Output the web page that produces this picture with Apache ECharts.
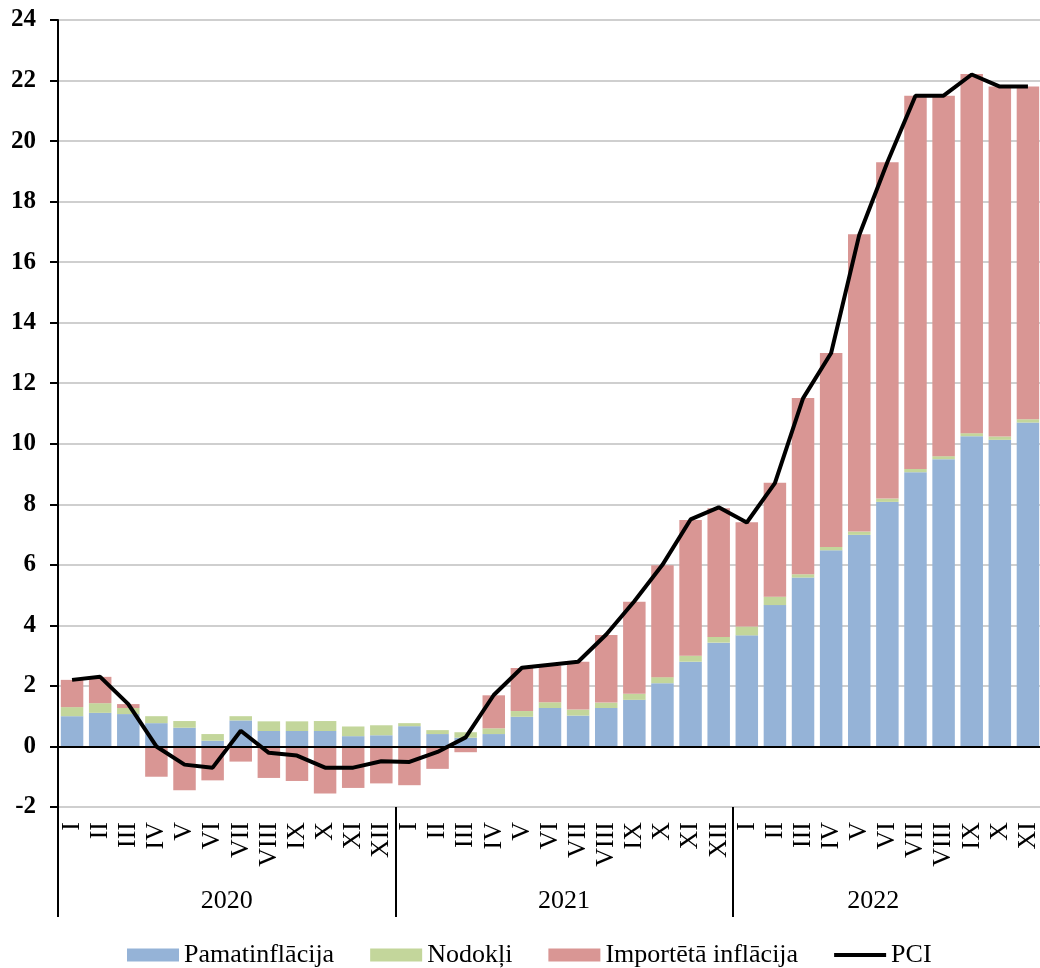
<!DOCTYPE html>
<html>
<head>
<meta charset="utf-8">
<script src="https://cdn.jsdelivr.net/npm/echarts@6/dist/echarts.min.js"></script>
<style>
  html, body { margin: 0; padding: 0; background: #fff; }
  #chart { width: 1040px; height: 968px; }
</style>
</head>
<body>
<div id="chart"></div>
<script>
// mēneši (2020 I – 2022 XI)
const months = [
  "I", "II", "III", "IV", "V", "VI", "VII", "VIII", "IX", "X", "XI", "XII",
  "I", "II", "III", "IV", "V", "VI", "VII", "VIII", "IX", "X", "XI", "XII",
  "I", "II", "III", "IV", "V", "VI", "VII", "VIII", "IX", "X", "XI"
];
const years = ["2020", "2021", "2022"];
const yearSizes = [12, 12, 11];

// pamatinflācija
const core = [
  1.0, 1.11, 1.07, 0.77, 0.62, 0.19, 0.86, 0.51, 0.51, 0.51, 0.34, 0.37,
  0.67, 0.41, 0.29, 0.41, 0.98, 1.27, 1.02, 1.27, 1.54, 2.09, 2.8, 3.43,
  3.67, 4.67, 5.58, 6.48, 6.99, 8.08, 9.06, 9.49, 10.25, 10.13, 10.7
];
// nodokļi
const taxes = [
  0.3, 0.32, 0.2, 0.23, 0.22, 0.22, 0.14, 0.32, 0.32, 0.33, 0.32, 0.33,
  0.1, 0.13, 0.18, 0.19, 0.19, 0.19, 0.2, 0.18, 0.2, 0.2, 0.2, 0.19,
  0.29, 0.28, 0.11, 0.11, 0.11, 0.11, 0.11, 0.1, 0.1, 0.11, 0.11
];
// importētā inflācija
const imported = [
  0.9, 0.87, 0.13, -1.0, -1.45, -1.12, -0.5, -1.04, -1.14, -1.55, -1.37, -1.22,
  -1.28, -0.74, -0.19, 1.09, 1.42, 1.21, 1.58, 2.23, 3.04, 3.7, 4.48, 4.25,
  3.45, 3.76, 5.82, 6.41, 9.82, 11.11, 12.33, 11.91, 11.87, 11.56, 10.99
];
// PCI
const pci = [
  2.2, 2.3, 1.4, 0.0, -0.6, -0.7, 0.52, -0.21, -0.3, -0.7, -0.7, -0.49,
  -0.51, -0.18, 0.3, 1.7, 2.6, 2.7, 2.8, 3.7, 4.8, 6.0, 7.5, 7.9,
  7.4, 8.7, 11.5, 13.0, 16.9, 19.3, 21.5, 21.5, 22.2, 21.8, 21.8
];

const font = "'Liberation Serif', 'Times New Roman', serif";

// gadu sākumi un nosaukumu vietas
const yearStarts = [];
const yearLabelAt = {};
let acc = 0;
years.forEach(function (y, i) {
  yearStarts.push(acc);
  yearLabelAt[acc + Math.floor(yearSizes[i] / 2)] = y;
  acc += yearSizes[i];
});

const chart = echarts.init(document.getElementById("chart"));

const option = {
  animation: false,
  backgroundColor: "#fff",
  // platums tā, lai pēdējais atdalītājs paliek ārpus attēla
  grid: {
    left: 58,
    width: 984,
    top: 20,
    bottom: 161,
    containLabel: false,
    outerBoundsMode: "none"
  },
  legend: {
    left: 122,
    top: 937,
    itemWidth: 52,
    itemHeight: 13,
    itemGap: 36,
    symbolKeepAspect: true,
    textStyle: { fontFamily: font, fontSize: 26, color: "#000" },
    data: [
      { name: "Pamatinflācija", icon: "rect" },
      { name: "Nodokļi", icon: "rect" },
      { name: "Importētā inflācija", icon: "rect" },
      { name: "PCI", icon: "path://M0,0 L52,0 L52,4 L0,4 Z" }
    ]
  },
  xAxis: [
    {
      type: "category",
      data: months,
      position: "bottom",
      axisLine: { show: false, onZero: false },
      axisTick: { show: false },
      axisLabel: {
        interval: 0,
        rotate: 90,
        margin: 15,
        fontFamily: font,
        fontSize: 26,
        color: "#000"
      },
      splitLine: { show: false }
    },
    {
      // gadu atdalītāji
      type: "category",
      data: months,
      position: "bottom",
      axisLine: { show: false, onZero: false },
      axisLabel: { show: false },
      axisTick: {
        show: true,
        alignWithLabel: false,
        length: 110,
        interval: function (index) {
          return yearStarts.indexOf(index) >= 0;
        },
        lineStyle: { color: "#000", width: 2 }
      },
      splitLine: { show: false }
    },
    {
      // gadu nosaukumi
      type: "value",
      min: 0,
      max: months.length,
      interval: 1,
      position: "bottom",
      axisLine: { show: false, onZero: false },
      axisTick: { show: false },
      splitLine: { show: false },
      axisLabel: {
        margin: 81,
        fontFamily: font,
        fontSize: 26,
        color: "#000",
        formatter: function (v) {
          return yearLabelAt[v] || "";
        }
      }
    }
  ],
  yAxis: {
    type: "value",
    min: -2,
    max: 24,
    interval: 2,
    axisLine: { show: true, lineStyle: { color: "#000", width: 2 } },
    axisTick: { show: true, length: 8, lineStyle: { color: "#000", width: 2 } },
    axisLabel: {
      margin: 22,
      fontFamily: font,
      fontSize: 25,
      fontWeight: "bold",
      color: "#000"
    },
    splitLine: { lineStyle: { color: "#bfbfbf", width: 1.5 } }
  },
  series: [
    {
      name: "Pamatinflācija",
      type: "bar",
      stack: "total",
      barCategoryGap: "20%",
      itemStyle: { color: "#95b3d7" },
      data: core
    },
    {
      name: "Nodokļi",
      type: "bar",
      stack: "total",
      itemStyle: { color: "#c3d69b" },
      data: taxes
    },
    {
      name: "Importētā inflācija",
      type: "bar",
      stack: "total",
      itemStyle: { color: "#d99694" },
      data: imported
    },
    {
      name: "PCI",
      type: "line",
      symbol: "none",
      z: 5,
      itemStyle: { color: "#000" },
      lineStyle: { color: "#000", width: 4 },
      data: pci,
      markLine: {
        silent: true,
        symbol: ["none", "none"],
        label: { show: false },
        lineStyle: { color: "#000", width: 2, type: "solid" },
        data: [{ yAxis: 0 }]
      }
    }
  ]
};

chart.setOption(option);
</script>
</body>
</html>
